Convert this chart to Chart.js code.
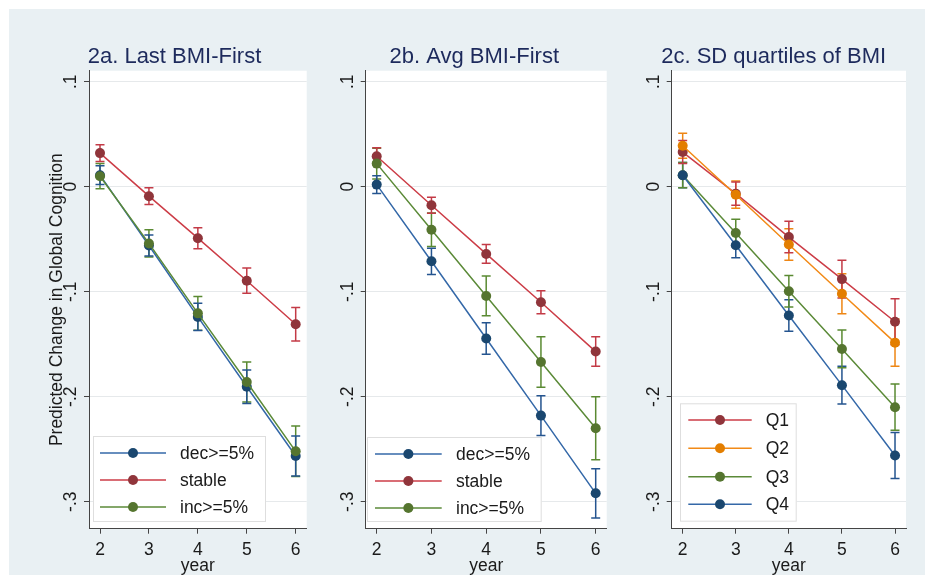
<!DOCTYPE html>
<html><head><meta charset="utf-8">
<script src="https://cdn.jsdelivr.net/npm/chart.js@4"></script>
<style>
html,body{margin:0;padding:0;background:#fff;width:925px;height:575px;overflow:hidden}
#bg{position:absolute;left:9px;top:9px;width:916px;height:566px;background:#e9f0f3}
canvas{position:absolute;top:0}
</style></head><body>
<div id="bg"></div>
<canvas id="c1" width="318" height="575" style="left:0px"></canvas>
<canvas id="c2" width="300" height="575" style="left:318px"></canvas>
<canvas id="c3" width="307" height="575" style="left:618px"></canvas>
<script>
// ---------- data ----------
const years = [2, 3, 4, 5, 6];
const yTicks = [0.1, 0, -0.1, -0.2, -0.3];
const yTickLabels = ['.1', '0', '-.1', '-.2', '-.3'];
const xTitle = 'year';
const yTitle = 'Predicted Change in Global Cognition';

const titleA = '2a. Last BMI-First';
const labelsA = ['dec>=5%', 'stable', 'inc>=5%'];
const aDec = [0.011, -0.056, -0.124, -0.1905, -0.2565];
const aDecErr = [0.009, 0.010, 0.013, 0.016, 0.019];
const aStable = [0.032, -0.009, -0.049, -0.0895, -0.131];
const aStableErr = [0.008, 0.008, 0.010, 0.012, 0.016];
const aInc = [0.010, -0.054, -0.1206, -0.186, -0.252];
const aIncErr = [0.012, 0.013, 0.016, 0.019, 0.024];

const titleB = '2b. Avg BMI-First';
const labelsB = ['dec>=5%', 'stable', 'inc>=5%'];
const bDec = [0.002, -0.071, -0.1445, -0.218, -0.292];
const bDecErr = [0.0085, 0.0125, 0.015, 0.019, 0.0235];
const bStable = [0.029, -0.0176, -0.064, -0.110, -0.157];
const bStableErr = [0.008, 0.0076, 0.009, 0.011, 0.014];
const bInc = [0.022, -0.041, -0.104, -0.167, -0.230];
const bIncErr = [0.0146, 0.016, 0.019, 0.024, 0.030];

const titleC = '2c. SD quartiles of BMI';
const labelsC = ['Q1', 'Q2', 'Q3', 'Q4'];
const cQ1 = [0.033, -0.0066, -0.048, -0.088, -0.1286];
const cQ1Err = [0.011, 0.011, 0.015, 0.018, 0.022];
const cQ2 = [0.039, -0.0076, -0.055, -0.102, -0.1485];
const cQ2Err = [0.012, 0.013, 0.015, 0.019, 0.0225];
const cQ3 = [0.011, -0.044, -0.0995, -0.1545, -0.21];
const cQ3Err = [0.012, 0.013, 0.015, 0.018, 0.022];
const cQ4 = [0.011, -0.0557, -0.1226, -0.189, -0.256];
const cQ4Err = [0.012, 0.012, 0.015, 0.018, 0.022];

// ---------- styles ----------
const FONT = "'Liberation Sans', Arial, Helvetica, sans-serif";
Chart.defaults.font.family = FONT;
const COL = {
  blue:   {line: '#3468a8', mark: '#1a476f', err: '#24548f'},
  red:    {line: '#cc3d47', mark: '#90353b', err: '#c33a46'},
  green:  {line: '#5b8a38', mark: '#55752f', err: '#5a8a32'},
  orange: {line: '#f28a17', mark: '#e37e00', err: '#ee8614'}
};
const Y_MIN = -0.3257, Y_MAX = 0.1105;

function makeDatasets(labels, vals, errs, cols) {
  const n = labels.length;
  return labels.map((lab, i) => ({
    label: lab,
    data: years.map((x, j) => ({x: x, y: vals[i][j]})),
    errs: errs[i],
    errColor: cols[i].err,
    borderColor: cols[i].line,
    backgroundColor: cols[i].mark,
    pointBackgroundColor: cols[i].mark,
    pointBorderWidth: 0,
    pointRadius: 5,
    pointHoverRadius: 5,
    borderWidth: 1.5,
    tension: 0,
    order: n - i
  }));
}

const panelPlugin = {
  id: 'panel',
  beforeDraw(chart) {
    const {ctx, chartArea: a} = chart;
    ctx.save();
    ctx.fillStyle = '#ffffff';
    ctx.fillRect(a.left, a.top, a.right - a.left, a.bottom - a.top);
    ctx.restore();
  },
  beforeDatasetsDraw(chart) {
    const {ctx, scales: {x, y}} = chart;
    ctx.save();
    ctx.lineWidth = 1.5;
    chart.data.datasets.slice().reverse().forEach(ds => {
      ctx.strokeStyle = ds.errColor;
      ds.data.forEach((p, j) => {
        const px = x.getPixelForValue(p.x);
        const hi = y.getPixelForValue(p.y + ds.errs[j]);
        const lo = y.getPixelForValue(p.y - ds.errs[j]);
        ctx.beginPath();
        ctx.moveTo(px, hi); ctx.lineTo(px, lo);
        ctx.moveTo(px - 4.5, hi); ctx.lineTo(px + 4.5, hi);
        ctx.moveTo(px - 4.5, lo); ctx.lineTo(px + 4.5, lo);
        ctx.stroke();
      });
    });
    ctx.restore();
  },
  afterDraw(chart) {
    const o = chart.options.plugins.panel;
    const {ctx, chartArea: a, scales: {x, y}} = chart;
    ctx.save();
    // title
    ctx.fillStyle = '#1d2a5c';
    ctx.font = '22px ' + FONT;
    ctx.textAlign = 'center';
    ctx.textBaseline = 'alphabetic';
    ctx.fillText(o.title, o.titleX, 63);
    // y tick labels (rotated)
    ctx.fillStyle = '#1a1a1a';
    ctx.font = '17.5px ' + FONT;
    yTicks.forEach((v, i) => {
      const py = y.getPixelForValue(v);
      ctx.save();
      ctx.translate(a.left - 13, py);
      ctx.rotate(-Math.PI / 2);
      ctx.textAlign = 'center';
      ctx.fillText(yTickLabels[i], 0, 0);
      ctx.restore();
    });
    // x title
    ctx.textAlign = 'center';
    ctx.fillText(xTitle, (a.left + a.right) / 2, 571);
    // y title
    if (o.yTitle) {
      ctx.save();
      ctx.translate(61.7, (a.top + a.bottom) / 2);
      ctx.rotate(-Math.PI / 2);
      ctx.textAlign = 'center';
      ctx.fillText(o.yTitle, 0, 0);
      ctx.restore();
    }
    // legend
    const L = o.legend;
    ctx.fillStyle = '#ffffff';
    ctx.strokeStyle = '#dedede';
    ctx.lineWidth = 1;
    ctx.fillRect(L.x0, L.y0, L.x1 - L.x0, L.y1 - L.y0);
    ctx.strokeRect(L.x0 + 0.5, L.y0 + 0.5, L.x1 - L.x0 - 1, L.y1 - L.y0 - 1);
    chart.data.datasets.forEach((ds, i) => {
      const ry = L.rows[i];
      ctx.strokeStyle = ds.borderColor;
      ctx.lineWidth = 1.5;
      ctx.beginPath();
      ctx.moveTo(L.l0, ry); ctx.lineTo(L.l1, ry);
      ctx.stroke();
      ctx.fillStyle = ds.pointBackgroundColor;
      ctx.beginPath();
      ctx.arc((L.l0 + L.l1) / 2, ry, 5, 0, Math.PI * 2);
      ctx.fill();
      ctx.fillStyle = '#1a1a1a';
      ctx.textAlign = 'left';
      ctx.textBaseline = 'middle';
      ctx.fillText(ds.label, L.tx, ry + 1);
    });
    ctx.restore();
  }
};

function makeChart(id, cfg) {
  return new Chart(document.getElementById(id), {
    type: 'line',
    data: {datasets: cfg.datasets},
    plugins: [panelPlugin],
    options: {
      responsive: false,
      animation: false,
      events: [],
      layout: {padding: {top: 70.7, bottom: 0, left: 0, right: cfg.padRight}},
      plugins: {
        legend: {display: false},
        tooltip: {enabled: false},
        title: {display: false},
        panel: cfg.panel
      },
      scales: {
        x: {
          type: 'linear',
          min: cfg.xMin, max: cfg.xMax,
          afterBuildTicks: s => { s.ticks = years.map(v => ({value: v})); },
          afterFit: s => { s.height = 46.3; },
          grid: {drawOnChartArea: false, drawTicks: true, tickLength: 5, tickColor: '#444', tickWidth: 1},
          border: {display: true, color: '#444', width: 1},
          ticks: {color: '#1a1a1a', font: {size: 17.5, family: FONT}, padding: 6, maxRotation: 0, minRotation: 0, callback: v => String(v)}
        },
        y: {
          type: 'linear',
          min: Y_MIN, max: Y_MAX,
          afterBuildTicks: s => { s.ticks = yTicks.map(v => ({value: v})); },
          afterFit: s => { s.width = cfg.yWidth; },
          grid: {color: '#e6e9eb', lineWidth: 1, drawTicks: true, tickLength: 5, tickColor: '#444', tickWidth: 1},
          border: {display: true, color: '#444', width: 1},
          ticks: {display: false}
        }
      }
    }
  });
}

makeChart('c1', {
  datasets: makeDatasets(labelsA, [aDec, aStable, aInc], [aDecErr, aStableErr, aIncErr], [COL.blue, COL.red, COL.green]),
  padRight: 11.3, yWidth: 89, xMin: 1.775, xMax: 6.225,
  panel: {title: titleA, titleX: 174.5, yTitle: yTitle,
    legend: {x0: 93, x1: 266, y0: 436, y1: 522, rows: [453, 480, 507], l0: 100, l1: 166, tx: 180}}
});
makeChart('c2', {
  datasets: makeDatasets(labelsB, [bDec, bStable, bInc], [bDecErr, bStableErr, bIncErr], [COL.blue, COL.red, COL.green]),
  padRight: 11.3, yWidth: 47.7, xMin: 1.799, xMax: 6.201,
  panel: {title: titleB, titleX: 474.3 - 318, yTitle: null,
    legend: {x0: 367 - 318, x1: 541.7 - 318, y0: 437, y1: 522, rows: [454, 481, 508], l0: 375 - 318, l1: 441.7 - 318, tx: 456 - 318}}
});
makeChart('c3', {
  datasets: makeDatasets(labelsC, [cQ1, cQ2, cQ3, cQ4], [cQ1Err, cQ2Err, cQ3Err, cQ4Err], [COL.red, COL.orange, COL.green, COL.blue]),
  padRight: 19, yWidth: 53.7, xMin: 1.793, xMax: 6.207,
  panel: {title: titleC, titleX: 773.7 - 618, yTitle: null,
    legend: {x0: 680 - 618, x1: 796.7 - 618, y0: 403.3, y1: 521.7, rows: [420, 448.3, 476.7, 504.3], l0: 688.3 - 618, l1: 751.7 - 618, tx: 765.7 - 618}}
});
</script>
</body></html>
